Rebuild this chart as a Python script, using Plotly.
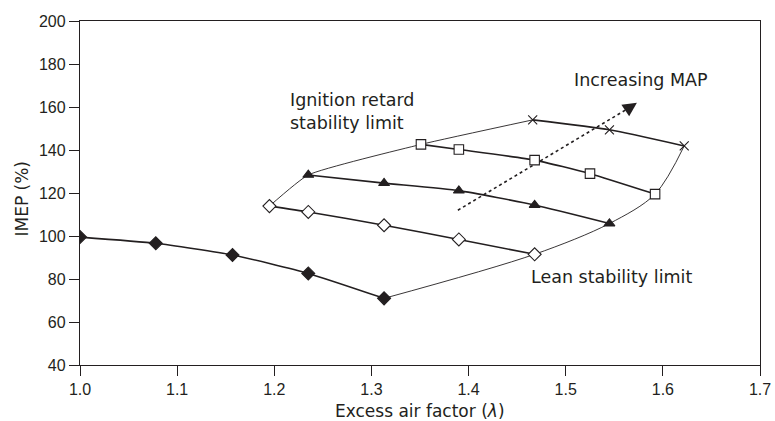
import plotly.graph_objects as go

# Excess air factor (lambda) and IMEP (%) for each manifold-pressure curve
lam_a = [1.000, 1.078, 1.157, 1.235, 1.313]
imep_a = [99.5, 96.6, 91.2, 82.6, 71.0]

lam_b = [1.195, 1.235, 1.313, 1.390, 1.468]
imep_b = [113.9, 111.2, 105.0, 98.4, 91.5]

lam_c = [1.235, 1.313, 1.390, 1.468, 1.545]
imep_c = [128.4, 124.6, 121.1, 114.4, 105.8]

lam_d = [1.351, 1.390, 1.468, 1.525, 1.592]
imep_d = [142.6, 140.2, 135.3, 129.0, 119.5]

lam_e = [1.466, 1.545, 1.622]
imep_e = [154.0, 149.4, 141.9]

# Stability limit envelopes
lean_lam = [1.313, 1.468, 1.545, 1.592, 1.622]
lean_imep = [71.0, 91.5, 105.8, 119.5, 141.9]

retard_lam = [1.195, 1.235, 1.351, 1.466]
retard_imep = [113.9, 128.4, 142.6, 154.0]

# Direction of increasing manifold absolute pressure
map_arrow_lam = [1.389, 1.566]
map_arrow_imep = [112.0, 159.8]
map_head = (1.5733, 162.0)

INK = "#231f20"
TICK_FONT = dict(family="Liberation Sans, Arial, sans-serif", size=16, color=INK)
TEXT_FONT = dict(family="DejaVu Sans, sans-serif", size=17.5, color=INK)
TITLE_FONT = dict(family="DejaVu Sans, sans-serif", size=17, color=INK)

fig = go.Figure()

# thin envelope curves
fig.add_trace(go.Scatter(
    x=lean_lam, y=lean_imep, mode="lines",
    line=dict(color=INK, width=0.9, shape="spline", smoothing=0.9),
    hoverinfo="skip", showlegend=False))
fig.add_trace(go.Scatter(
    x=retard_lam, y=retard_imep, mode="lines",
    line=dict(color=INK, width=0.9, shape="spline", smoothing=0.45),
    hoverinfo="skip", showlegend=False))

# dotted MAP direction line
fig.add_trace(go.Scatter(
    x=map_arrow_lam, y=map_arrow_imep, mode="lines",
    line=dict(color=INK, width=1.6, dash="dot"),
    hoverinfo="skip", showlegend=False))

series = [
    (lam_a, imep_a, "diamond", INK, 10),
    (lam_b, imep_b, "diamond", "white", 10),
    (lam_c, imep_c, "triangle-up", INK, 9.5),
    (lam_d, imep_d, "square", "white", 9.5),
    (lam_e, imep_e, "x-thin", INK, 9),
]
for xs, ys, sym, fill, size in series:
    fig.add_trace(go.Scatter(
        x=xs, y=ys, mode="lines+markers",
        line=dict(color=INK, width=1.6, shape="spline", smoothing=0.5),
        marker=dict(symbol=sym, size=size, color=fill,
                    line=dict(color=INK, width=1.1)),
        showlegend=False))

# arrow head of MAP direction
fig.add_annotation(
    x=map_head[0], y=map_head[1], ax=map_arrow_lam[1], ay=map_arrow_imep[1],
    xref="x", yref="y", axref="x", ayref="y", text="", showarrow=True,
    arrowhead=2, arrowsize=1.4, arrowwidth=2, arrowcolor=INK)

fig.add_annotation(x=1.5067, y=172.5, xref="x", yref="y", text="Increasing MAP",
                   showarrow=False, xanchor="left", yanchor="middle", font=TEXT_FONT)
fig.add_annotation(x=1.2139, y=158.1, xref="x", yref="y",
                   text="Ignition retard<br>stability limit", align="left",
                   showarrow=False, xanchor="left", yanchor="middle", font=TEXT_FONT)
fig.add_annotation(x=1.4624, y=81.0, xref="x", yref="y", text="Lean stability limit",
                   showarrow=False, xanchor="left", yanchor="middle", font=TEXT_FONT)

# axis titles
fig.add_annotation(x=0.5, y=0, xref="paper", yref="paper", yshift=-45.5,
                   text="Excess air factor (<i>λ</i>)", showarrow=False,
                   xanchor="center", yanchor="middle", borderpad=0, font=TITLE_FONT)
fig.add_annotation(x=0, y=0.5, xref="paper", yref="paper", xshift=-58.5, yshift=-6,
                   text="IMEP (%)", textangle=-90, showarrow=False,
                   xanchor="center", yanchor="middle", font=TITLE_FONT)

axis_common = dict(showgrid=False, zeroline=False, showline=True, linecolor=INK,
                   linewidth=1.3, mirror=True, ticks="outside", ticklen=10,
                   tickwidth=1.2, tickcolor=INK, tickfont=TICK_FONT,
                   automargin=False)

fig.update_xaxes(range=[1.0, 1.7], tickvals=[1.0, 1.1, 1.2, 1.3, 1.4, 1.5, 1.6, 1.7],
                 tickformat=".1f", ticklabelstandoff=0, **axis_common)
fig.update_yaxes(range=[40, 200], dtick=20, **axis_common)

fig.update_layout(
    width=775, height=421,
    margin=dict(l=80, r=15, t=21, b=56),
    plot_bgcolor="white", paper_bgcolor="white",
)

fig.write_html("out.html")
